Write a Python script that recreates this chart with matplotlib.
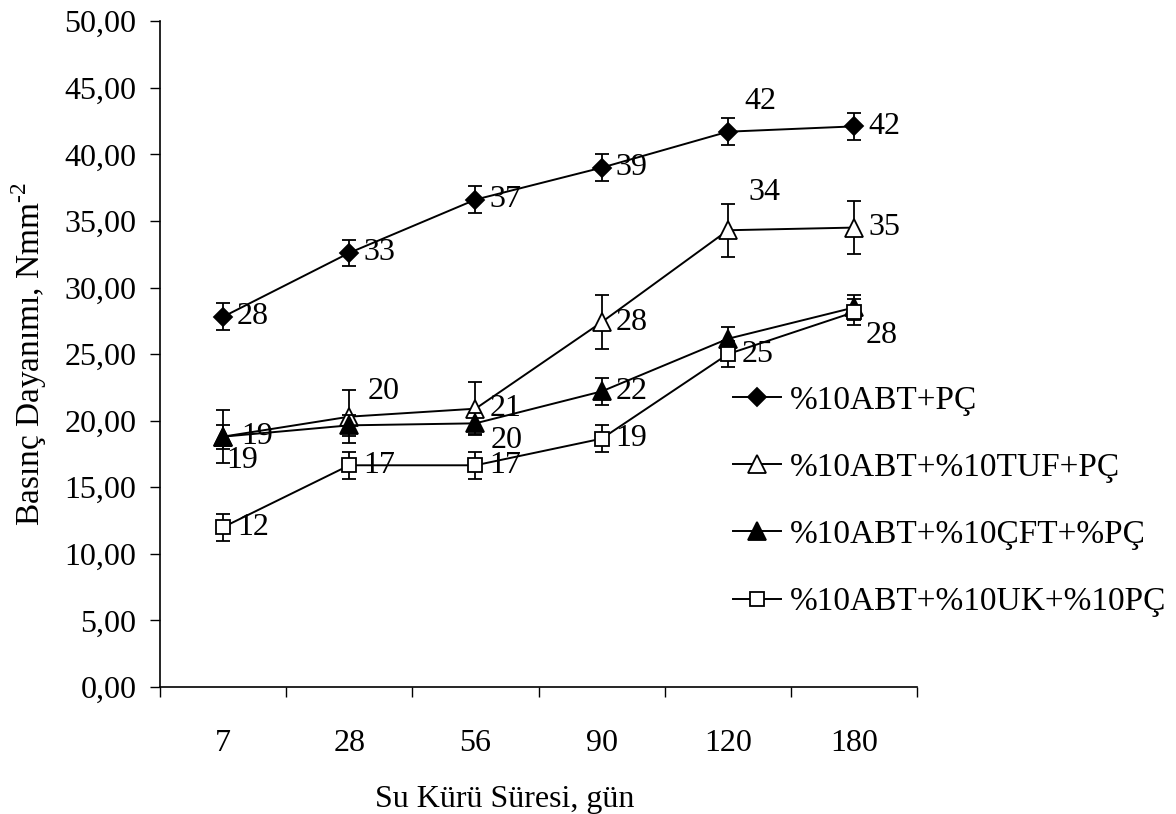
import numpy as np
import matplotlib
matplotlib.use("Agg")
import matplotlib.pyplot as plt
from matplotlib.ticker import FuncFormatter, FixedLocator

plt.rcParams['font.family'] = ['Liberation Serif', 'DejaVu Serif']
plt.rcParams['mathtext.fontset'] = 'custom'
plt.rcParams['mathtext.rm'] = 'Liberation Serif'

# curing time categories (days)
days = ["7", "28", "56", "90", "120", "180"]

# mean strength and error per mix
abt_pc = [27.8, 32.6, 36.6, 39.0, 41.7, 42.1]
abt_pc_err = [1.0, 1.0, 1.0, 1.0, 1.0, 1.0]
tuf = [18.8, 20.3, 20.9, 27.4, 34.3, 34.5]
tuf_err = [2.0, 2.0, 2.0, 2.0, 2.0, 2.0]
cft = [18.8, 19.65, 19.8, 22.2, 26.15, 28.5]
cft_err = [0.9, 0.8, 0.8, 1.0, 0.9, 0.95]
uk = [12.0, 16.65, 16.65, 18.65, 25.0, 28.15]
uk_err = [1.0, 1.0, 1.0, 1.0, 1.0, 1.0]

# data labels shown on the chart (None = hidden by overlap)
abt_pc_lbl = ["28", "33", "37", "39", "42", "42"]
tuf_lbl = ["19", "20", "21", "28", "34", "35"]
cft_lbl = ["19", None, "20", "22", None, None]
uk_lbl = ["12", "17", "17", "19", "25", "28"]

names = ["%10ABT+PÇ", "%10ABT+%10TUF+PÇ", "%10ABT+%10ÇFT+%PÇ", "%10ABT+%10UK+%10PÇ"]

fig = plt.figure(figsize=(11.76, 8.14), dpi=100)
ax = fig.add_axes([0.136, 0.156, 0.644, 0.818])

x = np.arange(len(days))
series = [
    (abt_pc, abt_pc_err, abt_pc_lbl, dict(marker="D", mfc="black", ms=9.5)),
    (tuf, tuf_err, tuf_lbl, dict(marker="^", mfc="white", ms=12.5)),
    (cft, cft_err, cft_lbl, dict(marker="^", mfc="black", ms=12.5)),
    (uk, uk_err, uk_lbl, dict(marker="s", mfc="white", ms=10.5)),
]

# label offsets in points, per series and point (dx, dy)
r = (10, 0)
offsets = [
    [r, r, r, r, (12, 22), r],
    [(2, -17), (13, 18), r, r, (15, 27), r],
    [(13, 0), r, (11, -12), r, r, r],
    [r, r, r, r, r, (8, -17)],
]

handles = []
for i, (vals, err, lbls, st) in enumerate(series):
    ax.errorbar(x, vals, yerr=err, fmt="none", ecolor="black", elinewidth=1.3,
                capsize=5, capthick=1.3)
    ln, = ax.plot(x, vals, color="black", lw=1.4, mec="black", mew=1.3,
                  label=names[i], **st)
    handles.append(ln)
    for j, t in enumerate(lbls):
        if t is None:
            continue
        ax.annotate(t, (x[j], vals[j]), xytext=offsets[i][j], textcoords="offset points",
                    ha="left", va="center", fontsize=23)

ax.set_xlim(-0.5, len(days) - 0.5)
ax.set_ylim(0, 50)
ax.set_yticks(np.arange(0, 50.1, 5))
ax.yaxis.set_major_formatter(FuncFormatter(lambda v, p: f"{v:.2f}".replace(".", ",")))
ax.set_xticks(x)
ax.set_xticklabels(days)
ax.xaxis.set_minor_locator(FixedLocator(np.arange(-0.5, len(days), 1)))
ax.tick_params(axis="x", which="major", length=0, pad=30, labelsize=23)
ax.tick_params(axis="x", which="minor", length=7, width=1, direction="out")
ax.tick_params(axis="y", length=7, width=1, direction="out", pad=10, labelsize=23)

for s in ["top", "right"]:
    ax.spines[s].set_visible(False)
ax.spines["left"].set_linewidth(1.2)
ax.spines["bottom"].set_linewidth(1.2)

ax.set_xlabel("Su Kürü Süresi, gün", fontsize=23)
ax.xaxis.set_label_coords(0.455, -0.147)
ax.set_ylabel(r"Basınç Dayanımı, Nmm$^{\text{-2}}$", fontsize=24)
ax.yaxis.set_label_coords(-0.147, 0.5)

fig.legend(handles=handles, loc="upper left", bbox_to_anchor=(0.612, 0.543),
           frameon=False, fontsize=24, handlelength=1.45, handletextpad=0.25,
           labelspacing=1.1, borderaxespad=0)

plt.savefig("out.png", dpi=100)
